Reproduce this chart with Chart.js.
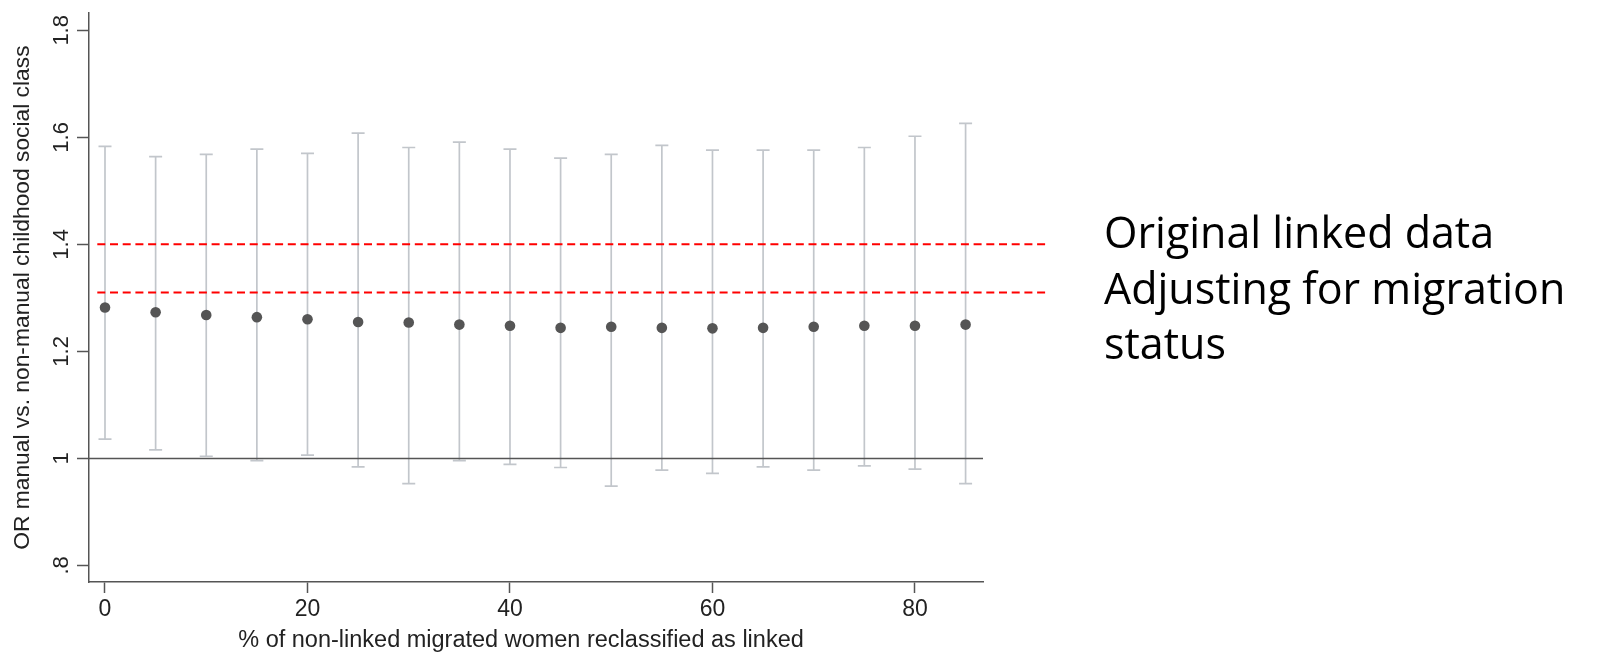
<!DOCTYPE html>
<html>
<head>
<meta charset="utf-8">
<script src="https://cdn.jsdelivr.net/npm/chart.js@4.4.1/dist/chart.umd.min.js"></script>
<style>
  html, body { margin: 0; padding: 0; background: #fff; }
  #wrap { position: relative; width: 1609px; height: 654px; }
  #nota {
    position: absolute; left: 1104px; top: 204px;
    font-family: "Open Sans", sans-serif; font-size: 43px; line-height: 55.5px;
    color: #000; white-space: nowrap;
  }
</style>
</head>
<body>
<div id="wrap">
  <canvas id="grafica" width="1609" height="654"></canvas>
  <div id="nota">Original linked data<br>Adjusting for migration<br>status</div>
</div>
<script>
// porcentaje reclasificado
var porcentajes = [0, 5, 10, 15, 20, 25, 30, 35, 40, 45, 50, 55, 60, 65, 70, 75, 80, 85];
// OR estimado y limites del intervalo
var orEstimado = [1.282, 1.273, 1.268, 1.264, 1.260, 1.255, 1.254, 1.250, 1.248, 1.244, 1.246, 1.244, 1.243, 1.244, 1.246, 1.248, 1.248, 1.250];
var limiteSup  = [1.583, 1.564, 1.568, 1.578, 1.570, 1.608, 1.581, 1.591, 1.578, 1.561, 1.568, 1.585, 1.576, 1.576, 1.576, 1.581, 1.602, 1.626];
var limiteInf  = [1.036, 1.016, 1.004, 0.996, 1.006, 0.984, 0.953, 0.996, 0.989, 0.983, 0.948, 0.978, 0.972, 0.984, 0.978, 0.986, 0.980, 0.953];

// lineas de referencia (rojas) y linea en 1
var refOriginal = 1.40;
var refMigracion = 1.31;
var lineaNula = 1;
var refDesde = -0.76, refHasta = 93.3;

var ticksX = [0, 20, 40, 60, 80];
var ticksY = [0.8, 1.0, 1.2, 1.4, 1.6, 1.8];
var xMin = -1.58, xMax = 86.72;
var yMin = 0.769, yMax = 1.832;

var tituloEjeX = '% of non-linked migrated women reclassified as linked';

var gris = '#555555';
var grisBarra = '#c2c6cb';
var fuente = '"Liberation Sans", Arial, sans-serif';

// barras de error: segmentos separados por null
var segmentos = [];
porcentajes.forEach(function(p, i) {
    segmentos.push({x: p, y: limiteInf[i]}, {x: p, y: limiteSup[i]}, {x: p, y: null});
});
var topes = [];
porcentajes.forEach(function(p, i) {
    topes.push({x: p, y: limiteInf[i]}, {x: p, y: limiteSup[i]});
});

function lineaH(valor, desde, hasta) {
    return [{x: desde, y: valor}, {x: hasta, y: valor}];
}

function etiquetaY(v) {
    var s = String(+v.toFixed(1));
    return s.replace(/^0\./, '.');
}

// titulo del eje x (un poco a la izquierda del centro, como en el original)
var pluginTituloX = {
    id: 'tituloX',
    afterDraw: function(chart) {
        var c = chart.ctx;
        c.save();
        c.font = '23.5px ' + fuente;
        c.fillStyle = '#222';
        c.textAlign = 'center';
        c.textBaseline = 'middle';
        c.fillText(tituloEjeX, 521, 641);
        c.restore();
    }
};

var ctx = document.getElementById('grafica').getContext('2d');
new Chart(ctx, {
    type: 'scatter',
    data: {
        datasets: [
            {
                data: porcentajes.map(function(p, i) { return {x: p, y: orEstimado[i]}; }),
                backgroundColor: gris, borderWidth: 0, pointRadius: 5.3, order: 0
            },
            {
                data: lineaH(refOriginal, refDesde, refHasta), showLine: true, clip: false,
                borderColor: '#ff0000', borderWidth: 2, borderDash: [8, 4.7], pointRadius: 0, order: 1
            },
            {
                data: lineaH(refMigracion, refDesde, refHasta), showLine: true, clip: false,
                borderColor: '#ff0000', borderWidth: 2, borderDash: [8, 4.7], pointRadius: 0, order: 1
            },
            {
                data: segmentos, showLine: true, spanGaps: false,
                borderColor: grisBarra, borderWidth: 1.7, pointRadius: 0, order: 3
            },
            {
                data: topes, pointStyle: 'line', pointRadius: 6.5,
                borderColor: grisBarra, borderWidth: 1.7, order: 3
            },
            {
                data: lineaH(lineaNula, xMin, xMax), showLine: true,
                borderColor: gris, borderWidth: 1.5, pointRadius: 0, order: 2
            }
        ]
    },
    options: {
        responsive: false,
        animation: false,
        layout: { padding: { left: 0, top: 12, right: 626, bottom: 0 } },
        plugins: { legend: { display: false }, tooltip: { enabled: false } },
        scales: {
            x: {
                type: 'linear', min: xMin, max: xMax,
                afterBuildTicks: function(escala) { escala.ticks = ticksX.map(function(v) { return {value: v}; }); },
                afterFit: function(escala) { escala.height = 72; },
                grid: { drawOnChartArea: false, drawTicks: true, tickLength: 11, tickColor: gris, tickWidth: 1.5 },
                border: { color: gris, width: 1.5 },
                ticks: { color: '#222', padding: 3, font: { family: fuente, size: 23 } }
            },
            y: {
                min: yMin, max: yMax,
                afterBuildTicks: function(escala) { escala.ticks = ticksY.map(function(v) { return {value: v}; }); },
                afterFit: function(escala) { escala.width = 89; },
                grid: { drawOnChartArea: false, drawTicks: true, tickLength: 12, tickColor: gris, tickWidth: 1.5 },
                border: { color: gris, width: 1.5 },
                ticks: {
                    color: '#222', padding: 0, minRotation: 90, maxRotation: 90, crossAlign: 'center',
                    font: { family: fuente, size: 22 },
                    callback: function(v) { return etiquetaY(v); }
                },
                title: {
                    display: true, text: 'OR manual vs. non-manual childhood social class',
                    color: '#222', font: { family: fuente, size: 22.8 }, padding: { top: 9, bottom: 0 }
                }
            }
        }
    },
    plugins: [pluginTituloX]
});
</script>
</body>
</html>
